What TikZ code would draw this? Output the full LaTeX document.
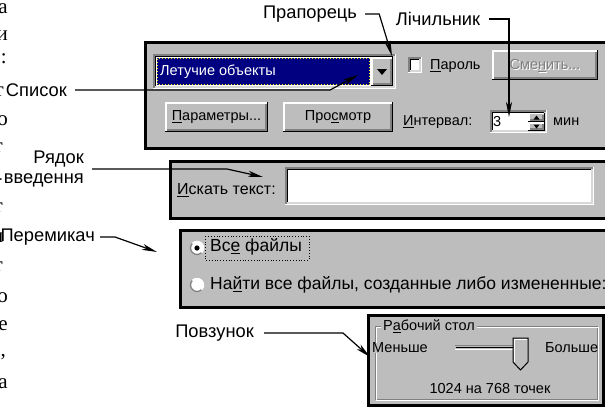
\documentclass[tikz,border=0pt]{standalone}
\usepackage{fontspec}
\setmainfont{Liberation Sans}
\newfontfamily\pagefont{Liberation Serif}
\usetikzlibrary{arrows.meta}
\definecolor{uigray}{RGB}{189,189,189}
\definecolor{uidark}{RGB}{128,128,128}
\definecolor{navyblue}{RGB}{0,0,128}
\tikzset{
  lbl/.style={inner sep=0pt, font=\fontsize{18.3}{20}\selectfont},
  conn/.style={line width=1.2pt, -{Stealth[length=15pt,width=6pt,inset=4pt]}},
  ui/.style={inner sep=0pt, font=\fontsize{14.5}{17}\selectfont},
  uibig/.style={inner sep=0pt, font=\fontsize{17.5}{20}\selectfont},
  panel/.style={fill=uigray, draw=black, line width=3pt},
  pagech/.style={inner sep=0pt, anchor=base east, font=\pagefont\fontsize{21}{24}\selectfont},
}
\newcommand\uibtn[4]{%
  \fill[uigray] (#1,#2) rectangle (#3,#4);
  \draw[white,line width=1.5pt] (#1+0.75,#4-1) -- (#1+0.75,#2+0.75) -- (#3-1,#2+0.75);
  \draw[black,line width=1.5pt] (#1,#4-0.75) -- (#3-0.75,#4-0.75) -- (#3-0.75,#2);
  \draw[uidark,line width=1.5pt] (#1+2,#4-2.25) -- (#3-2.25,#4-2.25) -- (#3-2.25,#2+2);
}
\newcommand\uisunk[4]{%
  \fill[white] (#1,#2) rectangle (#3,#4);
  \draw[uidark,line width=1.5pt] (#1+0.75,#4) -- (#1+0.75,#2+0.75) -- (#3,#2+0.75);
  \draw[black,line width=1.5pt] (#1+2.25,#4-2) -- (#1+2.25,#2+2.25) -- (#3-2,#2+2.25);
  \draw[white,line width=1.5pt] (#1,#4-0.75) -- (#3-0.75,#4-0.75) -- (#3-0.75,#2);
  \draw[uigray!60!white,line width=1.5pt] (#1+2,#4-2.25) -- (#3-2.25,#4-2.25) -- (#3-2.25,#2+2);
}
\begin{document}
\begin{tikzpicture}[x=1pt,y=-1pt]
\useasboundingbox (0,0) rectangle (605,408);
\clip (0,0) rectangle (605,408);
\fill[white] (0,0) rectangle (605,408);

% fragments of the book page at the left edge
\begin{scope}
\clip (0,0) rectangle (8,408);
\node[pagech] (f1) at (8,13) {а};
\node[pagech] (f2) at (8,40) {и};
\node[pagech] (f3) at (7,63) {:};
\node[pagech] (f4) at (4,96) {т};
\node[pagech] (f5) at (8,125) {о};
\node[pagech] (f6) at (3,152) {т};
\node[pagech] (f6b) at (2.5,184) {-};
\node[pagech] (f7) at (3,212) {т};
\node[pagech] (f8) at (3.5,242) {л};
\node[pagech] (f9) at (3,271) {т};
\node[pagech] (f10) at (8,302) {о};
\node[pagech] (f11) at (8,330) {е};
\node[pagech] (f12) at (6,356) {,};
\node[pagech] (f13) at (8,388) {а};
\end{scope}

% ---------- panel 1 ----------
\draw[panel] (145,42) rectangle (615,148);
\uisunk{153}{54}{396}{89}
\fill[navyblue] (157,58) rectangle (370,85);
\draw[yellow,dotted,line width=1pt] (157.5,58.5) rectangle (369.5,84.5);
\node[ui,anchor=west,text=white] (combo) at (160,71.5) {Летучие объекты};
\uibtn{371}{57}{393}{86}
\fill (377,69) -- (387,69) -- (382,75) -- cycle;
\uisunk{408}{57}{422}{73}
\node[ui,anchor=west] (parol) at (430,66) {\underline{П}ароль};
\uibtn{492}{50}{598}{80}
\node[ui,text=white] at (546,66.5) {Сме\underline{н}ить...};
\node[ui,text=uidark] (smenit) at (545,65.5) {Сме\underline{н}ить...};
\uibtn{165}{102}{268}{132}
\node[ui] (param) at (216.5,117) {\underline{П}араметры...};
\uibtn{283}{102}{393}{132}
\node[ui] (prosm) at (338,117) {Про\underline{с}мотр};
\node[ui,anchor=west] (interv) at (403,122) {\underline{И}нтервал:};
\uisunk{490}{110}{547}{133}
\node[ui,anchor=west] (three) at (493,122) {3};
\uibtn{528}{112.5}{545}{122}
\uibtn{528}{122}{545}{131}
\fill (533.5,119.5) -- (539.5,119.5) -- (536.5,115.5) -- cycle;
\fill (533.5,124.5) -- (539.5,124.5) -- (536.5,128.5) -- cycle;
\node[ui,anchor=west] (min) at (553,122) {мин};

% ---------- panel 2 ----------
\draw[panel] (170,161) rectangle (615,218);
\node[ui,anchor=west,font=\fontsize{16}{19}\selectfont] (iskat) at (177,190) {\underline{И}скать текст:};
\uisunk{285}{167}{594}{205}

% ---------- panel 3 ----------
\draw[panel] (180,230) rectangle (615,307);
\fill[white] (197,248) circle (7);
\draw[uidark,line width=1.3pt] (197,248) ++(45:6.5) arc (45:225:6.5);
\draw[white,line width=1.3pt] (197,248) ++(225:6.5) arc (225:405:6.5);
\fill (197,248) circle (2.6);
\node[uibig,anchor=west] (all) at (210,247) {Вс\underline{е} файлы};
\draw[black,dotted,line width=0.8pt] (205,236) rectangle (309,260);
\fill[white] (197,285) circle (7);
\draw[uidark,line width=1.3pt] (197,285) ++(45:6.5) arc (45:225:6.5);
\draw[white,line width=1.3pt] (197,285) ++(225:6.5) arc (225:405:6.5);
\node[uibig,anchor=west] (find) at (210,285) {На\underline{й}ти все файлы, созданные либо измененные:};

% ---------- panel 4 ----------
\draw[panel] (368,315) rectangle (603,405);
\draw[uidark,line width=1pt] (375,326) rectangle (597,399);
\draw[white,line width=1pt] (376,327) rectangle (598,400);
\node[ui,anchor=west,fill=uigray,inner sep=2pt] (desk) at (381,326) {Р\underline{а}бочий стол};
\node[ui,anchor=west,fill=uigray,inner xsep=1pt] (less) at (371,348) {Меньше};
\draw[uidark,line width=1.5pt] (455,345.5) -- (527,345.5);
\draw[black,line width=1pt] (456,347.5) -- (526,347.5);
\draw[white,line width=1.5pt] (455,349.5) -- (527,349.5);
\filldraw[fill=uigray,draw=black,line width=1pt] (513,338) -- (528,338) -- (528,362) -- (520.5,370) -- (513,362) -- cycle;
\draw[white,line width=1pt] (514.2,361.5) -- (514.2,339.2) -- (527,339.2);
\node[ui,anchor=west] (more) at (545,348) {Больше};
\node[ui] (res) at (490,388) {1024 на 768 точек};

% ---------- labels and connectors ----------
\node[lbl] (prap) at (310,14) {Прапорець};
\node[lbl] (lich) at (438,19) {Лічильник};
\node[lbl,anchor=east] (spys) at (67,90) {Список};
\node[lbl,anchor=east,align=right] (ryad) at (84,169) {Рядок\\введення};
\node[lbl,anchor=east] (perem) at (95,237) {Перемикач};
\node[lbl,anchor=east] (povz) at (254,333) {Повзунок};

\coordinate (prapT) at (392,56);
\coordinate (lichT) at (509,117);
\coordinate (spysT) at (358,75);
\coordinate (ryadT) at (263,177);
\coordinate (peremT) at (157,252);
\coordinate (povzT) at (370,357);

\draw[conn] ([xshift=8pt]prap.east) -- ++(14,0) -- (prapT);
\draw[conn] ([xshift=9pt]lich.east) -| (lichT);
\draw[conn] ([xshift=8pt]spys.east) -- (330,90) -- (spysT);
\draw[conn] ([xshift=8pt]ryad.east) -- (227,169) -- (ryadT);
\draw[conn] ([xshift=5pt]perem.east) -- (115,237) -- (peremT);
\draw[conn] ([xshift=10pt]povz.east) -- (343,333) -- (povzT);
\end{tikzpicture}
\end{document}
